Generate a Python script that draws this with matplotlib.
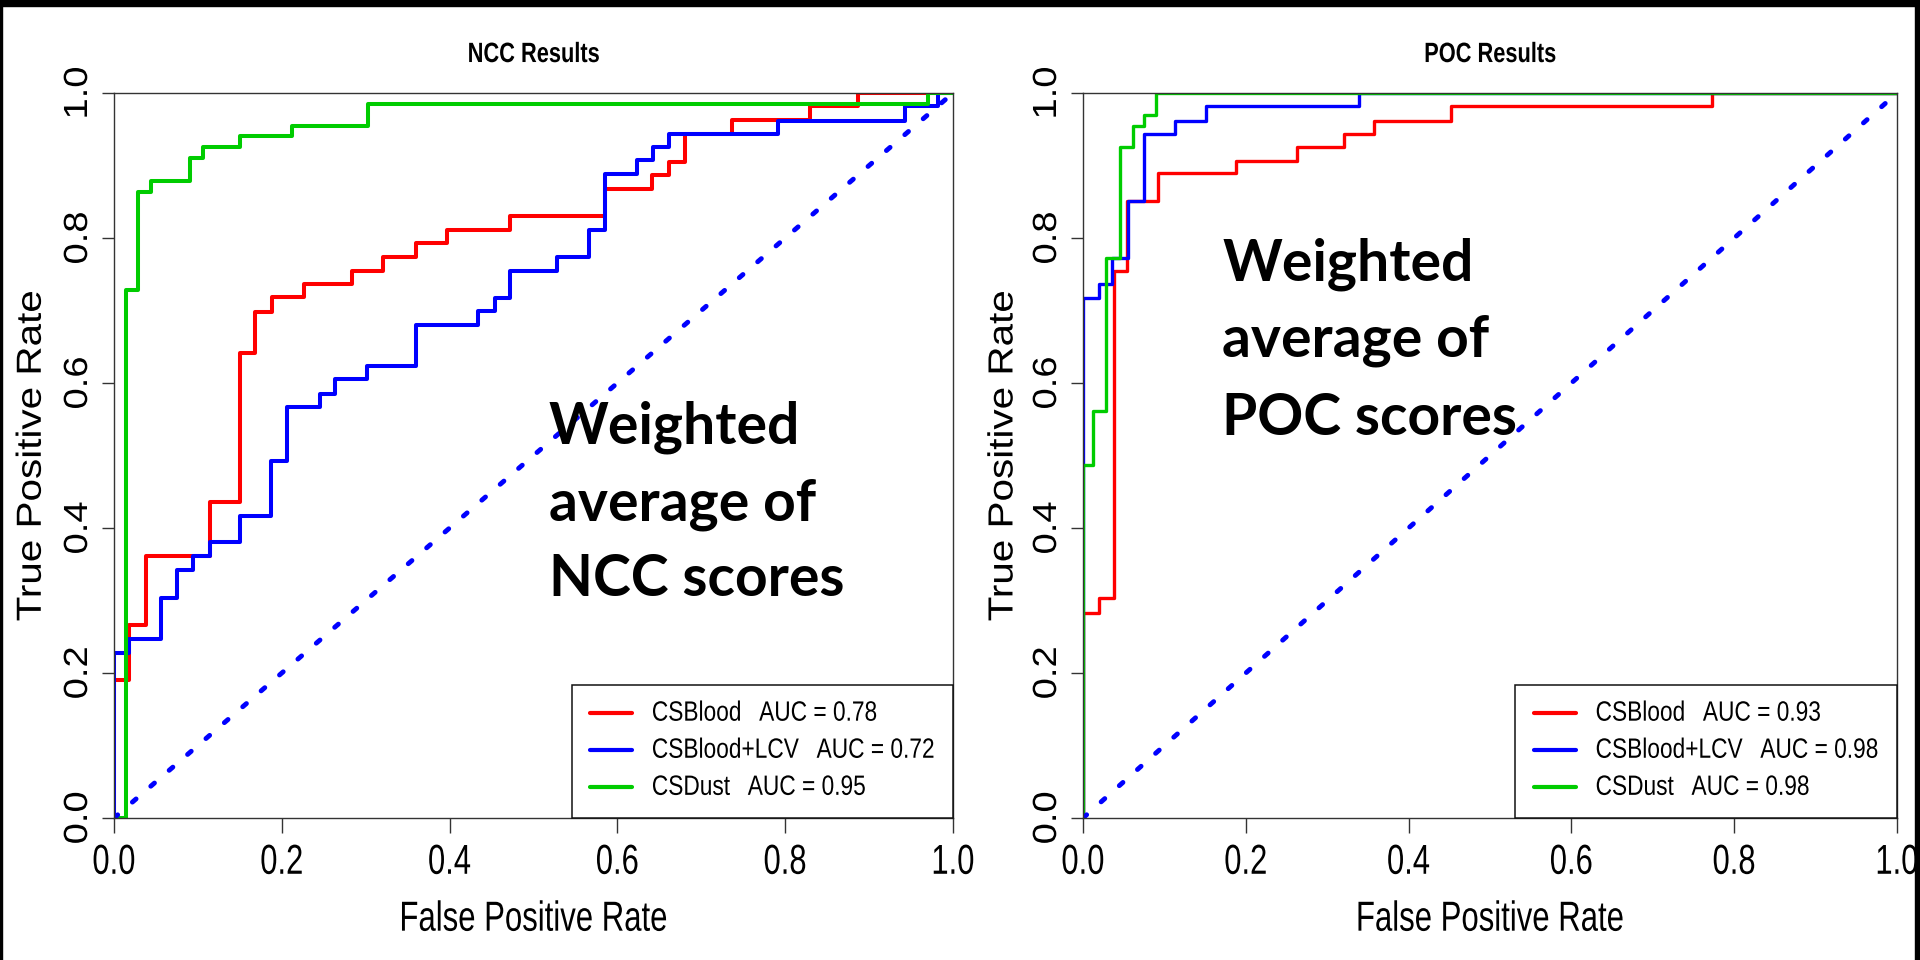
import numpy as np
import matplotlib.pyplot as plt
from matplotlib.patches import Rectangle
from matplotlib.patheffects import AbstractPathEffect
from matplotlib.transforms import Affine2D

# ROC curves as step points: fpr where the curve rises, tpr reached after the rise
ncc_blood_fpr = [0, 0, 0.0175, 0.038, 0.114, 0.150, 0.168, 0.188, 0.226, 0.284, 0.321, 0.360,
                 0.397, 0.472, 0.585, 0.641, 0.661, 0.680, 0.737, 0.830, 0.887, 1.0]
ncc_blood_tpr = [0, 0.19, 0.266, 0.361, 0.436, 0.641, 0.698, 0.718, 0.737, 0.755, 0.774, 0.793,
                 0.811, 0.830, 0.868, 0.887, 0.905, 0.944, 0.963, 0.982, 1.0, 1.0]

ncc_lcv_fpr = [0, 0, 0.0175, 0.0555, 0.075, 0.094, 0.114, 0.150, 0.1876, 0.2066, 0.245, 0.264,
               0.302, 0.360, 0.4336, 0.454, 0.4715, 0.528, 0.566, 0.585, 0.623, 0.642, 0.661,
               0.791, 0.943, 0.982, 1.0]
ncc_lcv_tpr = [0, 0.227, 0.2465, 0.303, 0.342, 0.361, 0.380, 0.417, 0.493, 0.567, 0.585, 0.605,
               0.623, 0.680, 0.699, 0.717, 0.755, 0.774, 0.811, 0.888, 0.907, 0.926, 0.944,
               0.962, 0.982, 1.0, 1.0]

ncc_dust_fpr = [0, 0.014, 0.029, 0.0445, 0.0905, 0.106, 0.150, 0.212, 0.303, 0.970, 1.0]
ncc_dust_tpr = [0, 0.728, 0.864, 0.879, 0.910, 0.9255, 0.940, 0.955, 0.985, 1.0, 1.0]

poc_blood_fpr = [0, 0, 0.0196, 0.0377, 0.0535, 0.0926, 0.188, 0.263, 0.321, 0.358, 0.4526, 0.7726, 1.0]
poc_blood_tpr = [0, 0.283, 0.3035, 0.754, 0.8506, 0.889, 0.906, 0.9255, 0.944, 0.962, 0.9816, 1.0, 1.0]

poc_lcv_fpr = [0, 0, 0.0196, 0.036, 0.055, 0.0753, 0.113, 0.1506, 0.339, 1.0]
poc_lcv_tpr = [0, 0.717, 0.7366, 0.773, 0.8506, 0.944, 0.962, 0.9816, 1.0, 1.0]

poc_dust_fpr = [0, 0, 0.012, 0.0286, 0.045, 0.061, 0.0753, 0.090, 1.0]
poc_dust_tpr = [0, 0.4866, 0.561, 0.773, 0.926, 0.955, 0.970, 1.0, 1.0]

series_names = ['CSBlood', 'CSBlood+LCV', 'CSDust']
series_colors = ['#FF0000', '#0000FF', '#00CC00']
ncc_auc = [0.78, 0.72, 0.95]
poc_auc = [0.93, 0.98, 0.98]

tick_vals = [0.0, 0.2, 0.4, 0.6, 0.8, 1.0]
tick_labels = ['0.0', '0.2', '0.4', '0.6', '0.8', '1.0']

sans = ['Liberation Sans', 'DejaVu Sans']
overlay_font = ['Lato', 'DejaVu Sans']
axis_col = '#333333'


class Stretch(AbstractPathEffect):
    """Scale the glyph outlines: sx along the text (about its middle), sy across it (about the baseline).
    The original screenshot was squashed, so the R fonts look narrow/tall."""

    def __init__(self, sx=1.0, sy=1.0):
        super().__init__()
        self.sx = sx
        self.sy = sy

    def draw_path(self, renderer, gc, tpath, affine, rgbFace=None):
        ext = tpath.get_extents()
        cx = (ext.x0 + ext.x1) / 2
        t = Affine2D().translate(-cx, 0).scale(self.sx, self.sy).translate(cx, 0)
        renderer.draw_path(gc, tpath, t + affine, rgbFace)


def draw_panel(ax, curves, aucs, title, note_lines, note_x, note_y, lw, ylabel_x):
    for (fpr, tpr), name, col, auc in zip(curves, series_names, series_colors, aucs):
        ax.step(fpr, tpr, where='post', color=col, lw=lw, label=f'{name}   AUC = {auc:.2f}')
    ax.plot([0, 1], [0, 1], color='#0000FF', lw=3.5, linestyle=(0, (1, 4)),
            dash_capstyle='round')

    ax.set_xlim(0, 1)
    ax.set_ylim(0, 1)
    for sp in ax.spines.values():
        sp.set_color(axis_col)
        sp.set_linewidth(1.0)

    ax.set_xticks(tick_vals)
    ax.set_xticklabels(tick_labels, family=sans, fontsize=22.3,
                       path_effects=[Stretch(sy=1.35)])
    ax.set_yticks(tick_vals)
    ax.set_yticklabels(tick_labels, family=sans, fontsize=24.1, rotation=90, va='center',
                       path_effects=[Stretch(sx=1.14)])
    ax.tick_params(axis='x', length=10.8, width=1.0, color=axis_col, pad=12.8)
    ax.tick_params(axis='y', length=8.6, width=1.0, color=axis_col, pad=5.8)

    ax.set_xlabel('False Positive Rate', family=sans, fontsize=22.4,
                  path_effects=[Stretch(sy=1.35)])
    ax.xaxis.set_label_coords(0.5, -0.1237)
    ax.set_ylabel('True Positive Rate', family=sans, fontsize=25.1, va='center',
                  path_effects=[Stretch(sx=1.16)])
    ax.yaxis.set_label_coords(ylabel_x, 0.5)
    ax.set_title(title, family=sans, fontsize=15.7, fontweight='bold', pad=22.3,
                 path_effects=[Stretch(sy=1.28)])

    leg = ax.legend(loc='lower right', bbox_to_anchor=(1, 0), borderaxespad=0,
                    prop={'family': sans, 'size': 16.35}, handlelength=1.85,
                    handletextpad=0.88, borderpad=0.8, labelspacing=0.62,
                    fancybox=False, framealpha=1, edgecolor='#111111')
    leg.get_frame().set_linewidth(1.1)
    for ln in leg.get_lines():
        ln.set_linewidth(3.0)
        ln.set_solid_capstyle('round')
    for t in leg.get_texts():
        t.set_path_effects([Stretch(sy=1.23)])

    for line, y in zip(note_lines, note_y):
        ax.text(note_x, y, line, transform=ax.transAxes, family=overlay_font,
                fontsize=41, fontweight='bold', ha='left', va='baseline', zorder=5)


fig = plt.figure(figsize=(19.2, 9.6), dpi=100)
ax1 = fig.add_axes([0.059375, 0.147917, 0.436979, 0.755208])
ax2 = fig.add_axes([0.564063, 0.147917, 0.423958, 0.755208])

draw_panel(ax1,
           [(ncc_blood_fpr, ncc_blood_tpr), (ncc_lcv_fpr, ncc_lcv_tpr), (ncc_dust_fpr, ncc_dust_tpr)],
           ncc_auc, 'NCC Results',
           ['Weighted', 'average of', 'NCC scores'], 0.518, [0.517, 0.411, 0.306],
           lw=2.9, ylabel_x=-0.0986)
draw_panel(ax2,
           [(poc_blood_fpr, poc_blood_tpr), (poc_lcv_fpr, poc_lcv_tpr), (poc_dust_fpr, poc_dust_tpr)],
           poc_auc, 'POC Results',
           ['Weighted', 'average of', 'POC scores'], 0.171, [0.742, 0.636, 0.528],
           lw=2.4, ylabel_x=-0.0983)

# black frame edges of the screenshot
fig.patches.append(Rectangle((0, 1 - 6 / 960), 1, 6 / 960, transform=fig.transFigure,
                             color='black', zorder=10))
fig.patches.append(Rectangle((0, 0), 1.5 / 1920, 1, transform=fig.transFigure,
                             color='black', zorder=10))
fig.patches.append(Rectangle((1 - 5 / 1920, 0), 5 / 1920, 1, transform=fig.transFigure,
                             color='black', zorder=10))

fig.savefig('out.png', dpi=100)
